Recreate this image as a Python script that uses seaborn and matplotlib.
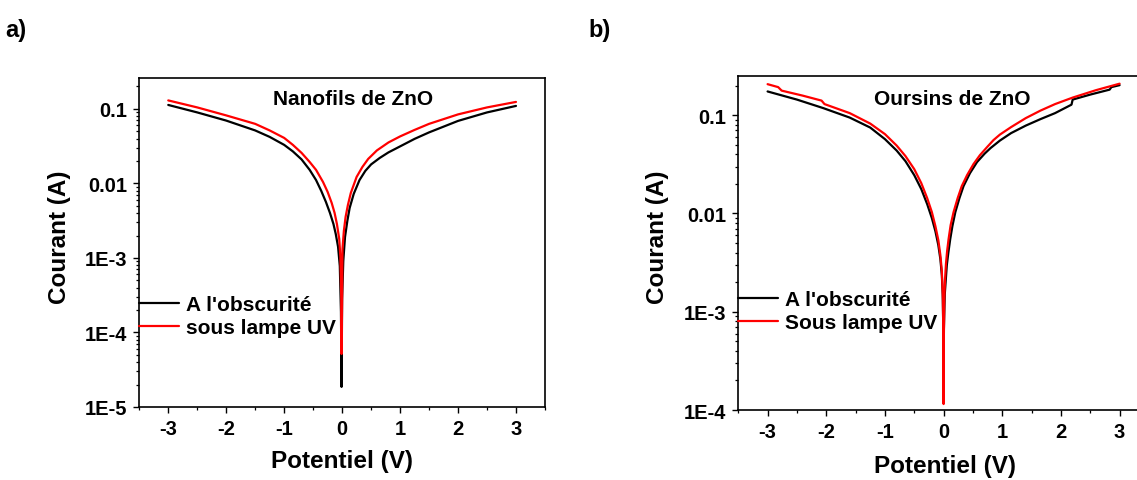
import matplotlib
matplotlib.use('Agg')
import matplotlib.pyplot as plt
import matplotlib.ticker as mticker
import seaborn as sns
import pandas as pd

# a) Nanofils de ZnO  (V in volts, I in amperes)
va_dark = [-3.0, -2.5, -2.0, -1.5, -1.25, -1.0, -0.85, -0.7, -0.56, -0.45, -0.36, -0.28, -0.21, -0.15, -0.11,
           -0.07, -0.04, -0.02, -0.01,
           0.0, 0.02, 0.05, 0.09, 0.13, 0.2, 0.3, 0.4, 0.5, 0.65, 0.8, 1.0, 1.25, 1.5, 2.0, 2.5, 3.0]
ia_dark = [0.113, 0.0897, 0.0697, 0.0514, 0.0421, 0.0329, 0.0269, 0.0210, 0.0152, 0.0111, 0.00793, 0.00565,
           0.00402, 0.00286, 0.00210, 0.00141, 0.00078, 0.000188, 0.0000186,
           0.000282, 0.00091, 0.00191, 0.00314, 0.00469, 0.00723, 0.0111, 0.01472, 0.0180, 0.0220, 0.0261,
           0.0314, 0.0396, 0.0484, 0.0690, 0.0897, 0.1097]
va_uv = [-3.0, -2.5, -2.0, -1.5, -1.25, -1.0, -0.85, -0.7, -0.56, -0.45, -0.33, -0.25, -0.18, -0.13, -0.09,
         -0.05, -0.03, -0.015, -0.01,
         0.0, 0.006, 0.03, 0.06, 0.1, 0.15, 0.25, 0.35, 0.45, 0.6, 0.8, 1.0, 1.25, 1.5, 2.0, 2.5, 3.0]
ia_uv = [0.130, 0.1047, 0.0818, 0.0630, 0.0514, 0.0408, 0.0329, 0.0257, 0.0194, 0.0152, 0.01047, 0.00769,
         0.00547, 0.00402, 0.00286, 0.00180, 0.00103, 0.000282, 0.0000514,
         0.000282, 0.00132, 0.00230, 0.00355, 0.00514, 0.00745, 0.01222, 0.01664, 0.02133, 0.02773, 0.03548,
         0.04273, 0.05224, 0.0630, 0.0844, 0.1047, 0.1241]

# b) Oursins de ZnO
vb_dark = [-3.0, -2.5, -2.05, -1.6, -1.25, -1.0, -0.8, -0.65, -0.5, -0.38, -0.28, -0.2, -0.14, -0.09, -0.055,
           -0.03, -0.015, -0.005, 0.0,
           0.005, 0.02, 0.055, 0.08, 0.113, 0.15, 0.2, 0.27, 0.34, 0.45, 0.57, 0.7, 0.8, 0.96, 1.15, 1.4, 1.65,
           1.9, 2.18, 2.2, 2.5, 2.83, 2.86, 3.0]
ib_dark = [0.1741, 0.1439, 0.1178, 0.0944, 0.0747, 0.0570, 0.0436, 0.0340, 0.0245, 0.01767, 0.01244, 0.00896,
           0.00660, 0.00476, 0.00343, 0.00236, 0.00151, 0.000665, 0.000129,
           0.000665, 0.00151, 0.00298, 0.00395, 0.00548, 0.00743, 0.01031, 0.01431, 0.01897, 0.0257, 0.0333,
           0.0406, 0.0462, 0.0551, 0.0656, 0.0782, 0.0910, 0.1048, 0.1278, 0.1439, 0.1618, 0.1817, 0.1927, 0.2018]
vb_uv = [-3.0, -2.82, -2.76, -2.4, -2.08, -2.03, -1.6, -1.25, -1.0, -0.8, -0.65, -0.5, -0.38, -0.28, -0.2,
         -0.14, -0.09, -0.055, -0.03, -0.012, -0.004, 0.0,
         0.004, 0.012, 0.025, 0.04, 0.06, 0.085, 0.12, 0.17, 0.24, 0.31, 0.4, 0.51, 0.62, 0.74, 0.85, 0.96, 1.15,
         1.4, 1.65, 1.9, 2.2, 2.6, 3.0]
ib_uv = [0.2065, 0.1927, 0.1775, 0.1578, 0.1405, 0.1295, 0.1048, 0.0820, 0.0641, 0.0490, 0.0383, 0.0282, 0.0203,
         0.01431, 0.01031, 0.00743, 0.00535, 0.00376, 0.00259, 0.00134, 0.000526, 0.000115,
         0.000526, 0.00134, 0.00215, 0.00305, 0.00413, 0.00548, 0.00760, 0.01031, 0.01431, 0.01897, 0.0245,
         0.0318, 0.0392, 0.0472, 0.0557, 0.0634, 0.0755, 0.0932, 0.1111, 0.1295, 0.1508, 0.1796, 0.2089]

xticks = [-3, -2, -1, 0, 1, 2, 3]
ya_ticks = [0.1, 0.01, 1e-3, 1e-4, 1e-5]
ya_labels = ['0.1', '0.01', '1E-3', '1E-4', '1E-5']
yb_ticks = [0.1, 0.01, 1e-3, 1e-4]
yb_labels = ['0.1', '0.01', '1E-3', '1E-4']

sns.set_theme(style='ticks', rc={'axes.edgecolor': 'black', 'xtick.color': 'black', 'ytick.color': 'black',
                                 'text.color': 'black', 'axes.labelcolor': 'black'})
plt.rcParams['font.family'] = ['Liberation Sans', 'DejaVu Sans']
plt.rcParams['font.weight'] = 'bold'
plt.rcParams['axes.labelweight'] = 'bold'

fig = plt.figure(figsize=(11.37, 4.81), dpi=100)
ax_a = fig.add_axes([0.1225, 0.1518, 0.3568, 0.684])
ax_b = fig.add_axes([0.6493, 0.1455, 0.3612, 0.6944])


def draw(ax, v_dark, i_dark, v_uv, i_uv, label_uv):
    d1 = pd.DataFrame({'V': v_dark, 'I': i_dark})
    d2 = pd.DataFrame({'V': v_uv, 'I': i_uv})
    sns.lineplot(data=d1, x='V', y='I', color='black', lw=1.6, estimator=None, label="A l'obscurité", ax=ax)
    sns.lineplot(data=d2, x='V', y='I', color='#ff0000', lw=1.6, estimator=None, label=label_uv, ax=ax)
    ax.set_yscale('log')
    ax.set_xlim(-3.5, 3.5)
    ax.set_xticks(xticks)
    ax.set_xticklabels([str(t) for t in xticks])
    ax.xaxis.set_minor_locator(mticker.MultipleLocator(0.5))
    ax.yaxis.set_minor_locator(mticker.LogLocator(base=10, subs=range(2, 10), numticks=20))
    ax.yaxis.set_minor_formatter(mticker.NullFormatter())
    ax.tick_params(which='major', direction='out', length=4.5, width=1.0, labelsize=14.5, pad=4)
    ax.tick_params(which='minor', direction='out', length=2.5, width=0.9)
    for s in ax.spines.values():
        s.set_linewidth(1.2)
    ax.set_xlabel('Potentiel (V)', fontsize=17.5)
    ax.set_ylabel('Courant (A)', fontsize=17.5)


draw(ax_a, va_dark, ia_dark, va_uv, ia_uv, 'sous lampe UV')
ax_a.set_ylim(1e-5, 0.26)
ax_a.yaxis.set_major_locator(mticker.FixedLocator(ya_ticks))
ax_a.yaxis.set_major_formatter(mticker.FixedFormatter(ya_labels))
ax_a.text(0.527, 0.921, 'Nanofils de ZnO', transform=ax_a.transAxes, ha='center', va='baseline', fontsize=15)
ax_a.legend(loc='center left', bbox_to_anchor=(0, 0.276), frameon=False, fontsize=15, borderpad=0,
            borderaxespad=0, handlelength=1.92, handletextpad=0.34, labelspacing=0.2)
ax_a.yaxis.set_label_coords(-0.168, 0.52)
ax_a.xaxis.set_label_coords(0.5, -0.129)

draw(ax_b, vb_dark, ib_dark, vb_uv, ib_uv, 'Sous lampe UV')
ax_b.set_ylim(1e-4, 0.25)
ax_b.yaxis.set_major_locator(mticker.FixedLocator(yb_ticks))
ax_b.yaxis.set_major_formatter(mticker.FixedFormatter(yb_labels))
ax_b.text(0.52, 0.916, 'Oursins de ZnO', transform=ax_b.transAxes, ha='center', va='baseline', fontsize=15)
ax_b.legend(loc='center left', bbox_to_anchor=(0, 0.296), frameon=False, fontsize=15, borderpad=0,
            borderaxespad=0, handlelength=1.92, handletextpad=0.34, labelspacing=0.2)
ax_b.yaxis.set_label_coords(-0.169, 0.52)
ax_b.xaxis.set_label_coords(0.503, -0.133)

fig.text(5 / 1137, 1 - 31 / 481, 'a)', ha='left', va='center', fontsize=17)
fig.text(588 / 1137, 1 - 31 / 481, 'b)', ha='left', va='center', fontsize=17)

fig.savefig('out.png', dpi=100)
